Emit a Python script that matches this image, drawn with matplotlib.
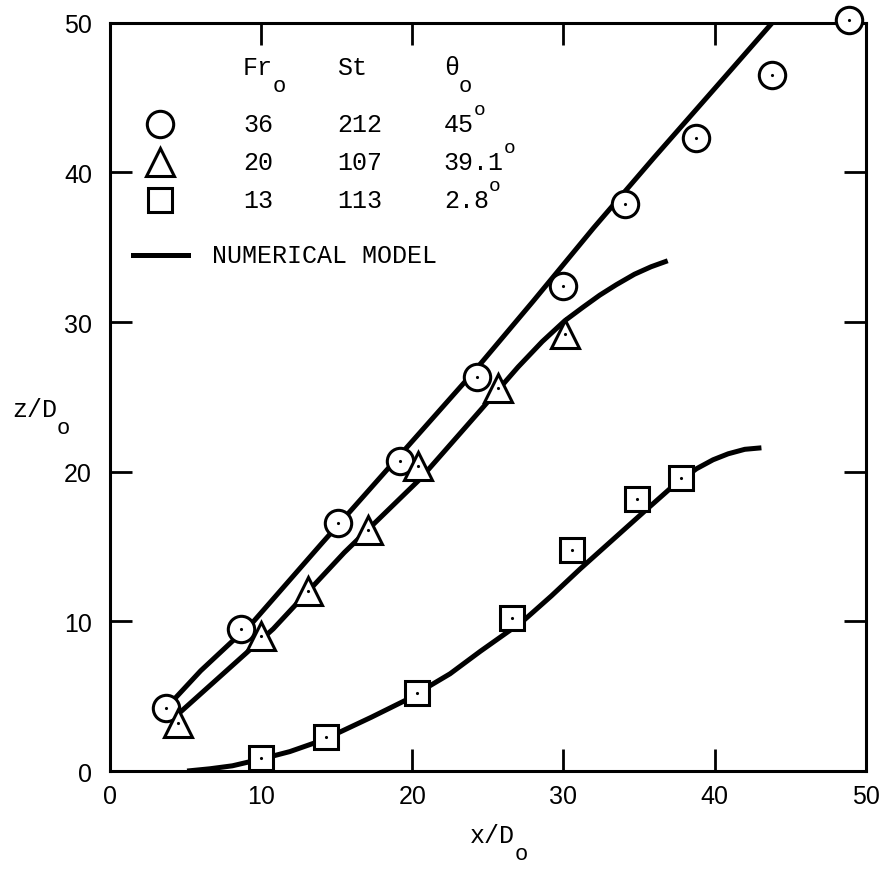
import matplotlib.pyplot as plt

# measured points (x/Do, z/Do)
circ_x = [3.7, 8.7, 15.1, 19.2, 24.3, 30.0, 34.1, 38.8, 43.8, 48.9]
circ_z = [4.2, 9.5, 16.6, 20.7, 26.3, 32.4, 37.9, 42.3, 46.5, 50.2]

tri_x = [4.5, 10.0, 13.1, 17.1, 20.4, 25.7, 30.1]
tri_z = [3.2, 9.0, 12.0, 16.1, 20.4, 25.6, 29.2]

sq_x = [10.0, 14.3, 20.3, 26.6, 30.6, 34.9, 37.8]
sq_z = [0.9, 2.3, 5.2, 10.2, 14.8, 18.2, 19.6]

# numerical model curves
mod1_x = [3.7, 6.0, 9.5, 14.0, 19.0, 24.0, 28.0, 32.0, 36.0, 40.0, 43.9]
mod1_z = [4.2, 6.7, 10.0, 15.2, 20.9, 26.6, 31.4, 36.3, 41.0, 45.6, 50.1]

mod2_x = [4.5, 10.8, 15.5, 20.5, 24.5, 27.0, 28.6, 30.1, 31.3, 32.4, 33.5, 34.7, 35.8, 36.9]
mod2_z = [3.8, 9.5, 14.6, 19.5, 24.1, 27.0, 28.7, 30.1, 31.0, 31.8, 32.5, 33.2, 33.7, 34.1]

mod3_x = [5.1, 6.6, 8.1, 10.0, 11.9, 13.6, 15.2, 17.3, 19.5, 21.0, 22.5, 24.5, 27.3,
          29.2, 31.1, 33.2, 35.3, 37.2, 38.8, 39.9, 40.9, 42.0, 43.1]
mod3_z = [0.0, 0.15, 0.35, 0.8, 1.3, 1.9, 2.6, 3.6, 4.7, 5.6, 6.5, 8.0, 10.0,
          11.7, 13.5, 15.4, 17.3, 19.0, 20.2, 20.8, 21.2, 21.5, 21.6]

ticks = [0, 10, 20, 30, 40, 50]

leg_rows = [('o', '36', '212', '45'), ('^', '20', '107', '39.1'), ('s', '13', '113', '2.8')]

mono = 'Liberation Mono'

fig = plt.figure(figsize=(8.87, 8.70), dpi=100)
ax = fig.add_axes([0.124, 0.1126, 0.852, 0.86])

lw = 3.6
for xs, zs in [(mod1_x, mod1_z), (mod2_x, mod2_z), (mod3_x, mod3_z)]:
    ax.plot(xs, zs, color='black', lw=lw, solid_capstyle='butt',
            solid_joinstyle='round', zorder=2)

mk = dict(color='white', markeredgecolor='black', markeredgewidth=2.2, ls='none', clip_on=False, zorder=3)
ax.plot(circ_x, circ_z, marker='o', markersize=19, **mk)
ax.plot(tri_x, tri_z, marker='^', markersize=20, **mk)
ax.plot(sq_x, sq_z, marker='s', markersize=17, **mk)
for xs, zs in [(circ_x, circ_z), (tri_x, tri_z), (sq_x, sq_z)]:
    ax.plot(xs, zs, marker='.', markersize=2.5, color='black', ls='none', clip_on=False, zorder=4)

ax.set_xlim(0, 50)
ax.set_ylim(0, 50)
ax.set_xticks(ticks)
ax.set_yticks(ticks)
ax.tick_params(direction='in', length=16, width=2, top=True, right=True, labelsize=18)
ax.tick_params(axis='x', pad=9)
ax.tick_params(axis='y', pad=13)
for lab in ax.get_xticklabels() + ax.get_yticklabels():
    lab.set_fontfamily('Liberation Sans')
for sp in ax.spines.values():
    sp.set_linewidth(2.2)


def sub_text(x, y, s, sub, size=18, sup=False):
    t = ax.text(x, y, s, transform=ax.transAxes, fontsize=size, family=mono,
                ha='left', va='center')
    if sup:
        ax.annotate(sub, xy=(1.0, 0.75), xycoords=t, fontsize=14, family=mono,
                    ha='left', va='bottom')
    else:
        ax.annotate(sub, xy=(1.0, 0.15), xycoords=t, fontsize=16, family=mono,
                    ha='left', va='top')
    return t


def fx(px):
    return (px - 110) / 756.0


def fy(py):
    return (772 - py) / 748.0


# legend header
sub_text(fx(243), fy(68), 'Fr', 'o')
ax.text(fx(337), fy(68), 'St', transform=ax.transAxes, fontsize=18, family=mono, va='center')
sub_text(fx(444), fy(68), '\u03b8', 'o')

row_y = [125, 163, 201]
msz = {'o': 19, '^': 20, 's': 17}
for (m, fr, st, th), py in zip(leg_rows, row_y):
    ax.plot([fx(160)], [fy(py)], marker=m, markersize=msz[m], color='white',
            markeredgecolor='black', markeredgewidth=2.2, transform=ax.transAxes, clip_on=False)
    ax.text(fx(243), fy(py), fr, transform=ax.transAxes, fontsize=18, family=mono, va='center')
    ax.text(fx(337), fy(py), st, transform=ax.transAxes, fontsize=18, family=mono, va='center')
    sub_text(fx(444), fy(py), th, 'o', sup=True)

ax.plot([fx(133), fx(188)], [fy(256), fy(256)], color='black', lw=lw, transform=ax.transAxes)
ax.text(fx(212), fy(256), 'NUMERICAL MODEL', transform=ax.transAxes, fontsize=18,
        family=mono, va='center')

# axis labels
sub_text(fx(12), fy(410), 'z/D', 'o')
sub_text(fx(470), fy(836), 'x/D', 'o')

fig.savefig('out.png', dpi=100)
